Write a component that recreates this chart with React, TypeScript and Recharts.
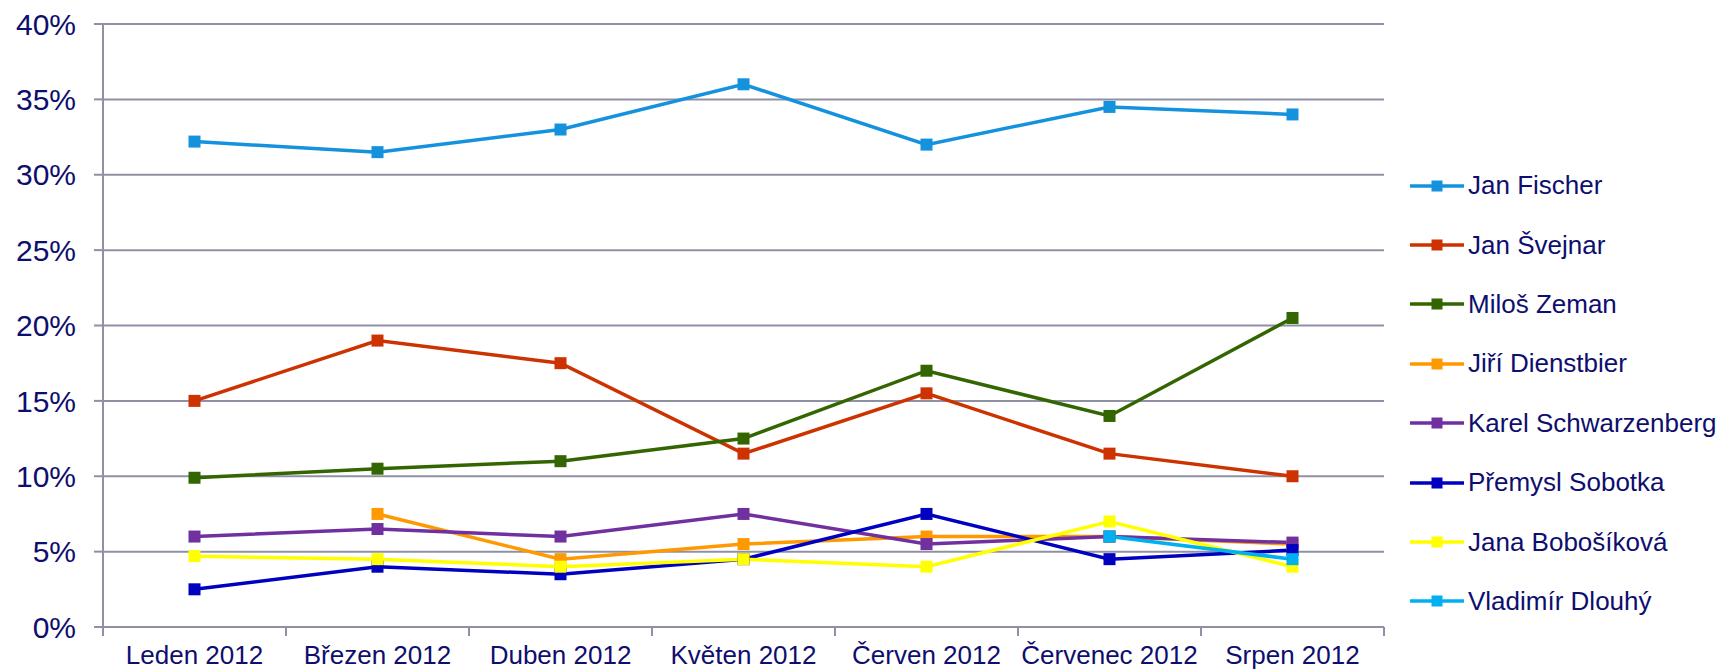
import { LineChart, Line, XAxis, YAxis, CartesianGrid } from 'recharts';

const months = [
  'Leden 2012',
  'Březen 2012',
  'Duben 2012',
  'Květen 2012',
  'Červen 2012',
  'Červenec 2012',
  'Srpen 2012',
];
const fischer = [32.2, 31.5, 33, 36, 32, 34.5, 34];
const svejnar = [15, 19, 17.5, 11.5, 15.5, 11.5, 10];
const zeman = [9.9, 10.5, 11, 12.5, 17, 14, 20.5];
const dienstbier = [null, 7.5, 4.5, 5.5, 6, 6, 5.5];
const schwarzenberg = [6, 6.5, 6, 7.5, 5.5, 6, 5.6];
const sobotka = [2.5, 4, 3.5, 4.5, 7.5, 4.5, 5.1];
const bobosikova = [4.7, 4.5, 4, 4.5, 4, 7, 4];
const dlouhy = [null, null, null, null, null, 6, 4.5];
const yTicks = [0, 5, 10, 15, 20, 25, 30, 35, 40];

const series = [
  { key: 'fischer', name: 'Jan Fischer', color: '#1592de', values: fischer },
  { key: 'svejnar', name: 'Jan Švejnar', color: '#cc3300', values: svejnar },
  { key: 'zeman', name: 'Miloš Zeman', color: '#336600', values: zeman },
  { key: 'dienstbier', name: 'Jiří Dienstbier', color: '#ff9900', values: dienstbier },
  { key: 'schwarzenberg', name: 'Karel Schwarzenberg', color: '#7030a0', values: schwarzenberg },
  { key: 'sobotka', name: 'Přemysl Sobotka', color: '#0000c0', values: sobotka },
  { key: 'bobosikova', name: 'Jana Bobošíková', color: '#ffff00', values: bobosikova },
  { key: 'dlouhy', name: 'Vladimír Dlouhý', color: '#00b0f0', values: dlouhy },
];

const data = months.map((m, i) => {
  const row: Record<string, any> = { month: m };
  series.forEach((s) => {
    row[s.key] = s.values[i];
  });
  return row;
});

const W = 1727;
const H = 670;
const LEFT = 103;
const RIGHT = 343;
const TOP = 24;
const XH = 43;
const BAND = (W - LEFT - RIGHT) / months.length;
const GRID = '#9090a4';
const TEXT = '#0e0e6e';
const FONT = 'Arial, "Liberation Sans", sans-serif';

const squareDot = (color: string) => (props: any) => {
  const { cx, cy, index } = props;
  if (cx == null || cy == null) return <g key={index} />;
  return <rect key={index} x={cx - 6} y={cy - 6} width={12} height={12} fill={color} />;
};

const XTick = (props: any) => {
  const { x, payload, index } = props;
  const axisY = H - XH;
  const half = BAND / 2;
  return (
    <g>
      <line x1={x - half} y1={axisY} x2={x - half} y2={axisY + 9} stroke={GRID} strokeWidth={2} />
      {index === months.length - 1 && (
        <line x1={x + half} y1={axisY} x2={x + half} y2={axisY + 9} stroke={GRID} strokeWidth={2} />
      )}
      <text x={x} y={axisY + 37} textAnchor='middle' fontSize={26} fill={TEXT} fontFamily={FONT}>
        {payload.value}
      </text>
    </g>
  );
};

const LegendList = () => (
  <div style={{ position: 'absolute', left: 1410, top: 156, fontFamily: FONT }}>
    {series.map((s) => (
      <div key={s.key} style={{ display: 'flex', alignItems: 'center', height: 59.4 }}>
        <svg width={54} height={12} style={{ marginRight: 4 }}>
          <line x1={0} y1={6} x2={54} y2={6} stroke={s.color} strokeWidth={3.5} />
          <rect x={21.5} y={0.5} width={11} height={11} fill={s.color} />
        </svg>
        <span style={{ fontSize: 26, color: TEXT, whiteSpace: 'nowrap' }}>{s.name}</span>
      </div>
    ))}
  </div>
);

export default function App() {
  return (
    <div style={{ position: 'absolute', left: 0, top: 0, width: W, height: H, background: '#fff' }}>
      <LineChart
        width={W}
        height={H}
        data={data}
        margin={{ top: TOP, right: RIGHT, bottom: 0, left: 0 }}
      >
        <CartesianGrid vertical={false} stroke={GRID} strokeWidth={2} />
        <XAxis
          dataKey='month'
          height={XH}
          padding={{ left: BAND / 2, right: BAND / 2 }}
          axisLine={{ stroke: GRID, strokeWidth: 2 }}
          tickLine={false}
          tick={<XTick />}
          interval={0}
        />
        <YAxis
          width={LEFT}
          domain={[0, 40]}
          ticks={yTicks}
          tickFormatter={(v) => `${v}%`}
          axisLine={{ stroke: GRID, strokeWidth: 2 }}
          tickLine={{ stroke: GRID, strokeWidth: 2 }}
          tickSize={9}
          tickMargin={18}
          tick={{ fontSize: 30, fill: TEXT, fontFamily: FONT }}
          interval={0}
        />
        {series.map((s) => (
          <Line
            key={s.key}
            dataKey={s.key}
            name={s.name}
            stroke={s.color}
            strokeWidth={3.5}
            dot={squareDot(s.color)}
            activeDot={false}
            isAnimationActive={false}
          />
        ))}
      </LineChart>
      <LegendList />
    </div>
  );
}
